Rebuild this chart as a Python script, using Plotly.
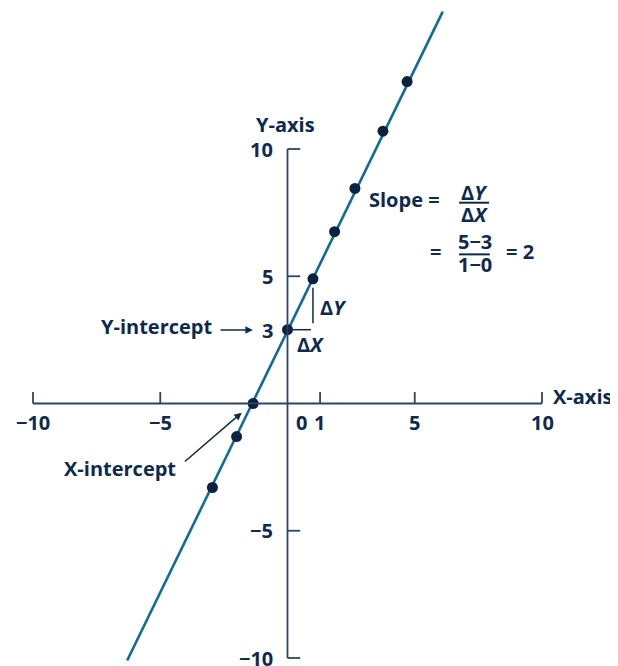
import plotly.graph_objects as go

# points marked on the line
point_x = [-2.95, -2.0, -1.35, 0.0, 1.0, 1.85, 2.65, 3.75, 4.7]
point_y = [-3.3, -1.3, 0.0, 2.9, 4.9, 6.75, 8.45, 10.7, 12.65]

# end points of the drawn line
line_x = [-6.3, 6.1]
line_y = [-10.1, 15.4]

# axis ticks
x_ticks = [-10, -5, 1, 5, 10]
x_tick_labels = ["\u221210", "\u22125", "1", "5", "10"]
y_ticks = [10, 5, -5, -10]
y_label_vals = [10, 5, 3, -5, -10]
y_labels = ["10", "5", "3", "\u22125", "\u221210"]

NAVY = "#0e2a4f"
AXIS = "#2c4566"
LINE = "#0f6b97"
DOT = "#0a2140"
FONT = "Open Sans"

# page body has an 8px margin, so the origin is moved 8px up/left
W, H = 610, 666
S = 25.45            # px per unit
OX, OY = 279.5, 395.5
x_range = [-OX / S, (W - OX) / S]
y_range = [-(H - OY) / S, OY / S]

fig = go.Figure()

fig.add_trace(go.Scatter(x=line_x, y=line_y, mode="lines",
                         line=dict(color=LINE, width=2.6), hoverinfo="skip"))
fig.add_trace(go.Scatter(x=point_x, y=point_y, mode="markers",
                         marker=dict(color=DOT, size=11)))

shapes = []
ax_line = dict(color=AXIS, width=1.8)
# axes
shapes.append(dict(type="line", x0=min(x_ticks), x1=max(x_ticks), y0=0, y1=0, line=ax_line))
shapes.append(dict(type="line", x0=0, x1=0, y0=min(y_ticks), y1=max(y_ticks), line=ax_line))
# ticks
for t in x_ticks:
    tx = t + (0.28 if t == 1 else 0)
    shapes.append(dict(type="line", x0=tx, x1=tx, y0=0, y1=0.45, line=ax_line))
for t in y_ticks:
    shapes.append(dict(type="line", x0=0, x1=0.5, y0=t, y1=t, line=ax_line))
# delta X / delta Y guides
shapes.append(dict(type="line", x0=0, x1=0.92, y0=2.9, y1=2.9, line=dict(color=NAVY, width=1.5)))
shapes.append(dict(type="line", x0=1.0, x1=1.0, y0=3.15, y1=4.55, line=dict(color=NAVY, width=1.5)))
# fraction bars
shapes.append(dict(type="line", x0=6.74, x1=7.92, y0=7.89, y1=7.89, line=dict(color=NAVY, width=2)))
shapes.append(dict(type="line", x0=6.74, x1=7.95, y0=5.86, y1=5.86, line=dict(color=NAVY, width=2)))

ann = []


def txt(x, y, s, size=20, xanchor="center", xshift=0, yshift=0):
    ann.append(dict(x=x, y=y, text="<b>" + s + "</b>", showarrow=False,
                    xanchor=xanchor, yanchor="middle", xshift=xshift, yshift=yshift,
                    font=dict(family=FONT, size=size, color=NAVY)))


for t, lab in zip(x_ticks, x_tick_labels):
    txt(t, -0.75, lab, xshift=7 if t == 1 else 0)
txt(0, -0.75, "0", xshift=14)
for v, lab in zip(y_label_vals, y_labels):
    txt(0, v, lab, xanchor="right", xshift=-13, yshift=-3 if v == 3 else 0)

txt(-0.06, 10.96, "Y-axis")
txt(11.6, 0.26, "X-axis")
txt(-5.11, 3.02, "Y-intercept")
txt(-6.58, -2.57, "X-intercept")
txt(1.81, 3.77, "\u0394<i>Y</i>")
txt(0.9, 2.32, "\u0394<i>X</i>")

txt(4.59, 8.03, "Slope =")
txt(7.33, 8.29, "\u0394<i>Y</i>")
txt(7.33, 7.43, "\u0394<i>X</i>")
txt(5.82, 5.96, "=")
txt(7.35, 6.35, "5\u22123")
txt(7.35, 5.46, "1\u22120")
txt(9.14, 5.96, "= 2")

# arrows
ann.append(dict(x=-1.36, y=2.89, ax=-2.69, ay=2.89, axref="x", ayref="y",
                text="", showarrow=True, arrowhead=2, arrowsize=1, arrowwidth=1.5,
                arrowcolor=NAVY))
ann.append(dict(x=-1.8, y=-0.36, ax=-4.09, ay=-2.33, axref="x", ayref="y",
                text="", showarrow=True, arrowhead=2, arrowsize=1, arrowwidth=1.5,
                arrowcolor=NAVY))

fig.update_layout(
    width=W, height=H, autosize=False,
    margin=dict(l=0, r=0, t=0, b=0),
    plot_bgcolor="white", paper_bgcolor="white",
    showlegend=False,
    shapes=shapes, annotations=ann,
    xaxis=dict(range=x_range, visible=False, fixedrange=True),
    yaxis=dict(range=y_range, visible=False, fixedrange=True),
)

fig.write_html("out.html")
